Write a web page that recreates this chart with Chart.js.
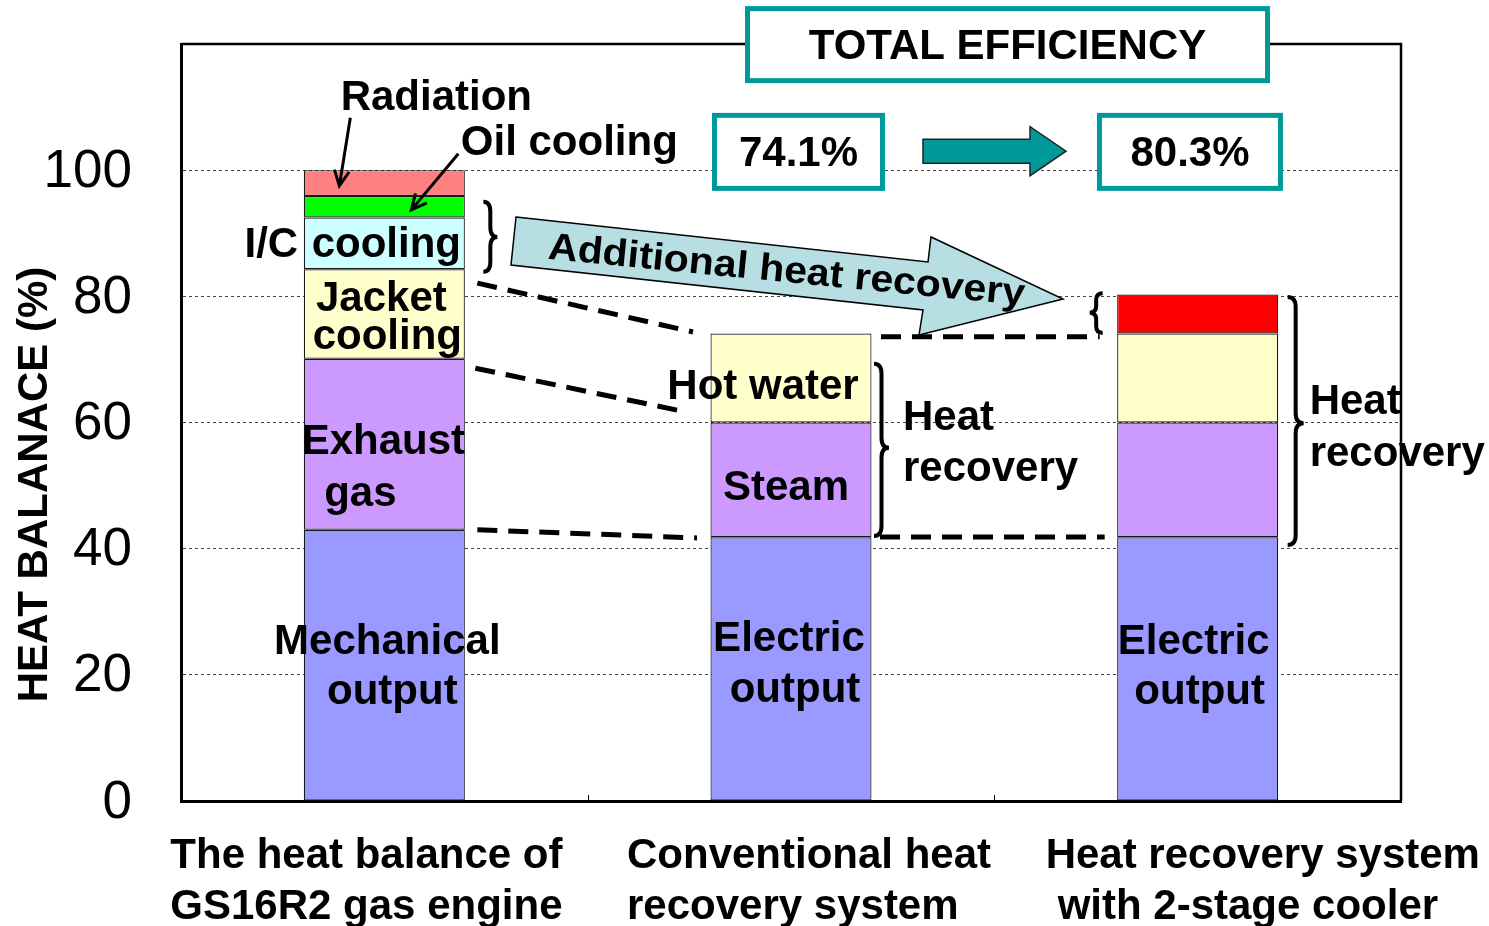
<!DOCTYPE html>
<html>
<head>
<meta charset="utf-8">
<script src="https://cdn.jsdelivr.net/npm/chart.js@4.4.1/dist/chart.umd.min.js"></script>
<style>
  html, body { margin: 0; padding: 0; background: #fff; }
  #wrap { width: 1489px; height: 926px; }
</style>
</head>
<body>
<div id="wrap"><canvas id="heatChart" width="1489" height="926"></canvas></div>
<script>
// x categories
var categories = [
  ['The heat balance of', 'GS16R2 gas engine'],
  ['Conventional heat', 'recovery system'],
  ['Heat recovery system', 'with 2-stage cooler']
];

// stacked layers, bottom to top (% of fuel input)
var outputShare    = [43.0, 41.8, 41.8];  // mechanical / electric output
var exhaustSteam   = [27.1, 18.2, 18.2];  // exhaust gas / steam
var jacketHotWater = [14.2, 14.1, 14.1];  // jacket cooling / hot water
var icAdditional   = [8.2, null, 6.2];    // I/C cooling / additional recovery
var oilCooling     = [3.4, null, null];
var radiation      = [4.1, null, null];

var yTicks = [0, 20, 40, 60, 80, 100];

var TEAL = '#009999';
var FONT = "'Liberation Sans', Arial, sans-serif";

function total(i) {
  var s = 0;
  [outputShare, exhaustSteam, jacketHotWater, icAdditional, oilCooling, radiation].forEach(function (a) {
    s += a[i] || 0;
  });
  return s.toFixed(1) + '%';
}

// annotation anchors: [category, pixel offset from category centre, y value]
var notes = [
  ['Radiation', 0, 52, 111.8],
  ['Oil cooling', 0, 185, 104.6],
  ['I/C', 0, -113, 88.5],
  ['cooling', 0, 2, 88.5],
  ['Jacket', 0, -3, 79.9],
  ['cooling', 0, 3, 73.9],
  ['Exhaust', 0, -1, 57.2],
  ['gas', 0, -24, 49.0],
  ['Mechanical', 0, 3, 25.5],
  ['output', 0, 8, 17.6],
  ['Hot water', 1, -28, 65.9],
  ['Steam', 1, -5, 49.9],
  ['Electric', 1, -2, 26.0],
  ['output', 1, 4, 17.9],
  ['Heat', 1, 112, 61.0, 'left'],
  ['recovery', 1, 112, 53.0, 'left'],
  ['Electric', 2, -4, 25.5],
  ['output', 2, 2, 17.6],
  ['Heat', 2, 112, 63.6, 'left'],
  ['recovery', 2, 112, 55.3, 'left']
];

var dashed = [
  [[0, 93, 82.1], [1, -98, 74.35]],
  [[1, 90, 73.6], [2, -98, 73.6]],
  [[0, 91, 68.6], [1, -106, 61.7]],
  [[0, 93, 43.0], [1, -94, 41.7]],
  [[1, 89, 41.85], [2, -93, 41.85]]
];

// category, dx, top, bottom, middle, width, direction
var braces = [
  [0, 99, 95.0, 83.9, 89.4, 14, 1],
  [1, 83, 69.3, 42.0, 56.0, 15, 1],
  [2, -95, 80.5, 74.2, 77.4, 13, -1],
  [2, 90, 79.9, 40.6, 59.9, 16, 1]
];

var pointers = [
  [[0, -34, 108.3], [0, -45, 97.5]],
  [[0, 74, 102.6], [0, 27, 93.7]]
];

var bigArrow = [[-275, 92.58], [137, 85.44], [140, 89.41], [272, 79.58], [128, 73.87], [132, 77.83], [-280, 84.97]];

var xLabelDx = [[-214, -214], [-164, -164], [-152, -140]];

var TEXT_DY = 2.5; // canvas 'middle' sits a bit above cap centre

function pt(chart, i, dx, v) {
  return [chart.scales.x.getPixelForValue(i) + dx, chart.scales.y.getPixelForValue(v)];
}

function drawBrace(ctx, x, yTop, yBot, yMid, w, dir) {
  var r = Math.min(10, (yBot - yTop) / 6);
  var xs = x + dir * w / 2;
  var xp = x + dir * w;
  ctx.beginPath();
  ctx.moveTo(x, yTop);
  ctx.quadraticCurveTo(xs, yTop, xs, yTop + r);
  ctx.lineTo(xs, yMid - r);
  ctx.quadraticCurveTo(xs, yMid, xp, yMid);
  ctx.quadraticCurveTo(xs, yMid, xs, yMid + r);
  ctx.lineTo(xs, yBot - r);
  ctx.quadraticCurveTo(xs, yBot, x, yBot);
  ctx.stroke();
}

var annotations = {
  id: 'annotations',
  afterDraw: function (chart) {
    var ctx = chart.ctx;
    var a = chart.chartArea;
    var xs = chart.scales.x;
    ctx.save();

    // plot frame top / right
    ctx.strokeStyle = '#000';
    ctx.lineWidth = 2.5;
    ctx.beginPath();
    ctx.moveTo(a.left, a.top);
    ctx.lineTo(a.right, a.top);
    ctx.lineTo(a.right, a.bottom);
    ctx.stroke();

    // small inner ticks between categories
    ctx.lineWidth = 1;
    for (var k = 0; k < categories.length - 1; k++) {
      var bx = Math.round((xs.getPixelForValue(k) + xs.getPixelForValue(k + 1)) / 2) + 0.5;
      ctx.beginPath();
      ctx.moveTo(bx, a.bottom);
      ctx.lineTo(bx, a.bottom - 6);
      ctx.stroke();
    }

    // dashed connectors
    ctx.lineWidth = 5;
    ctx.setLineDash([20, 11]);
    dashed.forEach(function (d) {
      var p = pt(chart, d[0][0], d[0][1], d[0][2]);
      var q = pt(chart, d[1][0], d[1][1], d[1][2]);
      ctx.beginPath();
      ctx.moveTo(p[0], p[1]);
      ctx.lineTo(q[0], q[1]);
      ctx.stroke();
    });
    ctx.setLineDash([]);

    // braces
    ctx.lineWidth = 4;
    braces.forEach(function (b) {
      var top = pt(chart, b[0], b[1], b[2]);
      drawBrace(ctx, top[0], top[1], chart.scales.y.getPixelForValue(b[3]),
        chart.scales.y.getPixelForValue(b[4]), b[5], b[6]);
    });

    // label pointers
    ctx.lineWidth = 3;
    pointers.forEach(function (p) {
      var s = pt(chart, p[0][0], p[0][1], p[0][2]);
      var e = pt(chart, p[1][0], p[1][1], p[1][2]);
      var ang = Math.atan2(e[1] - s[1], e[0] - s[0]);
      ctx.beginPath();
      ctx.moveTo(s[0], s[1]);
      ctx.lineTo(e[0], e[1]);
      ctx.moveTo(e[0] - 17 * Math.cos(ang - 0.45), e[1] - 17 * Math.sin(ang - 0.45));
      ctx.lineTo(e[0], e[1]);
      ctx.lineTo(e[0] - 17 * Math.cos(ang + 0.45), e[1] - 17 * Math.sin(ang + 0.45));
      ctx.stroke();
    });

    // additional heat recovery arrow
    ctx.beginPath();
    bigArrow.forEach(function (p, n) {
      var q = pt(chart, 1, p[0], p[1]);
      if (n === 0) ctx.moveTo(q[0], q[1]); else ctx.lineTo(q[0], q[1]);
    });
    ctx.closePath();
    ctx.fillStyle = '#B7DEE3';
    ctx.fill();
    ctx.lineWidth = 1.5;
    ctx.strokeStyle = '#000';
    ctx.stroke();

    var c = pt(chart, 1, -5.5, 82.27);
    ctx.save();
    ctx.translate(c[0], c[1]);
    ctx.rotate(5.6 * Math.PI / 180);
    ctx.scale(1.08, 1);
    ctx.fillStyle = '#000';
    ctx.font = 'bold 38px ' + FONT;
    ctx.textAlign = 'center';
    ctx.textBaseline = 'alphabetic';
    ctx.fillText('Additional heat recovery', 0, 0);
    ctx.restore();

    // teal arrow between efficiencies
    var m = pt(chart, 1, 0, 103.0);
    ctx.beginPath();
    ctx.moveTo(m[0] + 132, m[1] - 12);
    ctx.lineTo(m[0] + 239, m[1] - 12);
    ctx.lineTo(m[0] + 239, m[1] - 24.5);
    ctx.lineTo(m[0] + 275, m[1]);
    ctx.lineTo(m[0] + 239, m[1] + 24.5);
    ctx.lineTo(m[0] + 239, m[1] + 12);
    ctx.lineTo(m[0] + 132, m[1] + 12);
    ctx.closePath();
    ctx.fillStyle = TEAL;
    ctx.fill();
    ctx.lineWidth = 1.5;
    ctx.strokeStyle = '#222';
    ctx.stroke();

    // boxes
    var boxes = [
      ['TOTAL EFFICIENCY', 1, 216.5, 119.9, 520, 72],
      [total(1), 1, 7.5, 102.9, 168, 73],
      [total(2), 2, -7.7, 102.9, 181, 73]
    ];
    ctx.font = 'bold 42px ' + FONT;
    ctx.textAlign = 'center';
    ctx.textBaseline = 'middle';
    boxes.forEach(function (b) {
      var p = pt(chart, b[1], b[2], b[3]);
      ctx.fillStyle = '#fff';
      ctx.fillRect(p[0] - b[4] / 2, p[1] - b[5] / 2, b[4], b[5]);
      ctx.lineWidth = 5;
      ctx.strokeStyle = TEAL;
      ctx.strokeRect(p[0] - b[4] / 2, p[1] - b[5] / 2, b[4], b[5]);
      ctx.fillStyle = '#000';
      ctx.fillText(b[0], p[0], p[1] + TEXT_DY);
    });

    // segment labels
    notes.forEach(function (n) {
      var p = pt(chart, n[1], n[2], n[3]);
      ctx.textAlign = n[4] || 'center';
      ctx.fillText(n[0], p[0], p[1] + TEXT_DY);
    });

    // category labels
    ctx.textAlign = 'left';
    chart.data.labels.forEach(function (lab, i) {
      lab.forEach(function (line, j) {
        var p = pt(chart, i, xLabelDx[i][j], j === 0 ? -8.4 : -16.5);
        ctx.fillText(line, p[0], p[1] + TEXT_DY);
      });
    });

    // y axis title
    ctx.save();
    ctx.translate(35, (a.top + a.bottom) / 2 + 62);
    ctx.rotate(-Math.PI / 2);
    ctx.textAlign = 'center';
    ctx.fillText('HEAT BALANACE (%)', 0, 0);
    ctx.restore();

    ctx.restore();
  }
};

function layer(label, data, colors) {
  return {
    label: label,
    data: data,
    backgroundColor: colors,
    borderColor: '#1a1a1a',
    borderWidth: 1.2,
    borderSkipped: false,
    barPercentage: 0.396,
    categoryPercentage: 1
  };
}

var heatChart = new Chart(document.getElementById('heatChart'), {
  type: 'bar',
  data: {
    labels: categories,
    datasets: [
      layer('Output', outputShare, '#9999FF'),
      layer('Exhaust gas / Steam', exhaustSteam, '#CC99FF'),
      layer('Jacket cooling / Hot water', jacketHotWater, '#FFFFCC'),
      layer('I/C cooling / Additional', icAdditional, ['#CCFFFF', '#CCFFFF', '#FF0000']),
      layer('Oil cooling', oilCooling, '#00FF00'),
      layer('Radiation', radiation, '#FF8080')
    ]
  },
  options: {
    responsive: false,
    animation: false,
    devicePixelRatio: 1,
    layout: { padding: { top: 44, right: 88, left: 0, bottom: 0 } },
    plugins: {
      legend: { display: false },
      tooltip: { enabled: false }
    },
    scales: {
      x: {
        stacked: true,
        afterFit: function (s) { s.height = 125; s.paddingLeft = 0; s.paddingRight = 0; },
        ticks: { display: false },
        grid: { drawOnChartArea: false, drawTicks: false },
        border: { display: true, width: 3, color: '#000' }
      },
      y: {
        stacked: true,
        min: 0,
        max: 120,
        afterFit: function (s) { s.width = 181; s.paddingTop = 0; s.paddingBottom = 0; },
        ticks: {
          stepSize: 20,
          padding: 49,
          labelOffset: 2,
          color: '#000',
          font: { family: FONT, size: 53 },
          callback: function (v) { return yTicks.indexOf(v) >= 0 ? v : ''; }
        },
        grid: {
          drawTicks: false,
          lineWidth: 1,
          color: function (c) {
            return (c.tick && (c.tick.value === 0 || c.tick.value === 120)) ? 'rgba(0,0,0,0)' : '#444';
          }
        },
        border: { display: true, width: 3, color: '#000', dash: [3, 3] }
      }
    }
  },
  plugins: [annotations]
});
</script>
</body>
</html>
